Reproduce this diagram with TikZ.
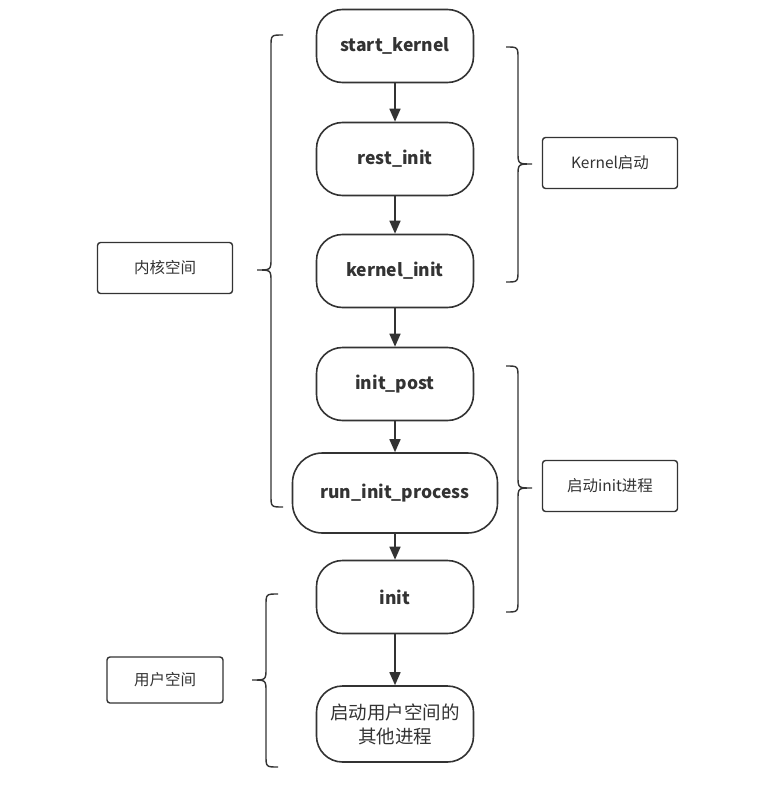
\documentclass[tikz,border=0pt]{standalone}
\usepackage{fontspec}
\setmainfont{Noto Sans CJK SC}
\usetikzlibrary{arrows.meta}
\definecolor{line}{HTML}{333333}
\begin{document}
\begin{tikzpicture}[x=1pt,y=-1pt,
  proc/.style={draw=line, line width=1.6pt, rounded corners=26pt, minimum width=157pt, minimum height=73pt, font=\fontsize{17.5}{20}\selectfont\bfseries, text=line, align=center, inner sep=2pt},
  lab/.style={draw=line, line width=1.4pt, rounded corners=3pt, minimum width=135pt, minimum height=51pt, font=\fontsize{15.5}{18}\selectfont, text=line},
  arr/.style={draw=line, line width=1.6pt, -{Triangle[length=13pt,width=11pt]}},
  brc/.style={draw=line, line width=1.4pt}]
\useasboundingbox (0,0) rectangle (778,808);
\node[proc] (sk) at (395,46) {start\_kernel};
\node[proc] (ri) at (395,159) {rest\_init};
\node[proc] (ki) at (395,271) {kernel\_init};
\node[proc] (ip) at (395,384) {init\_post};
\node[proc, minimum width=205pt, minimum height=80pt, rounded corners=30pt] (rip) at (395,493) {run\_init\_process};
\node[proc, minimum height=76pt, font=\fontsize{18.5}{24}\selectfont] (us) at (395,724) {启动用户空间的\\其他进程};
\node[proc] (in) at (395,597) {init};
\draw[arr] (sk) -- (ri);
\draw[arr] (ri) -- (ki);
\draw[arr] (ki) -- (ip);
\draw[arr] (ip) -- (rip);
\draw[arr] (rip) -- (in);
\draw[arr] (in) -- (us);
\node[lab] (kspace) at (165,268) {内核空间};
\node[lab] (kboot) at (610,163) {Kernel启动};
\node[lab] (iboot) at (610,486) {启动init进程};
\node[lab, minimum width=116pt, minimum height=46pt] (uspace) at (165,680) {用户空间};
% braces
\draw[brc] (283,35) .. controls (271,35) .. (271,47) -- (271,258) .. controls (271,270) .. (257,270) .. controls (271,270) .. (271,282) -- (271,495) .. controls (271,507) .. (283,507);
\draw[brc] (506,47) .. controls (518,47) .. (518,59) -- (518,152) .. controls (518,164) .. (532,164) .. controls (518,164) .. (518,176) -- (518,270) .. controls (518,282) .. (506,282);
\draw[brc] (506,366) .. controls (518,366) .. (518,378) -- (518,476) .. controls (518,488) .. (532,488) .. controls (518,488) .. (518,500) -- (518,600) .. controls (518,612) .. (506,612);
\draw[brc] (278,594) .. controls (266,594) .. (266,606) -- (266,668) .. controls (266,680) .. (252,680) .. controls (266,680) .. (266,692) -- (266,755) .. controls (266,767) .. (278,767);
\end{tikzpicture}
\end{document}
